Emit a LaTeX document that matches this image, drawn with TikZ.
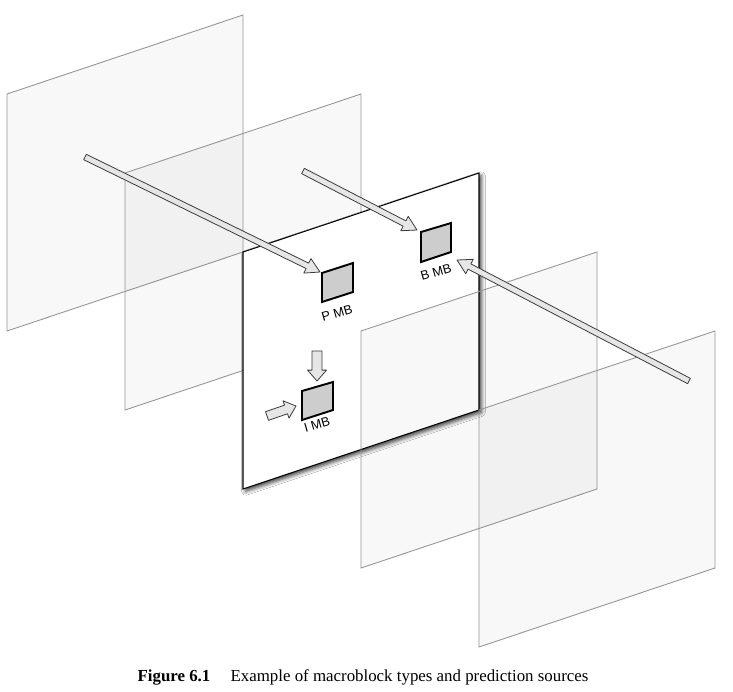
\documentclass[tikz,border=0pt]{standalone}
\usepackage{fontspec}
\setmainfont{Liberation Serif}
\setsansfont{Liberation Sans}
\usetikzlibrary{calc,shadows.blur}
\definecolor{vframe}{HTML}{959595}
\definecolor{vedge}{HTML}{3a3a3a}
\definecolor{varrow}{HTML}{e6e6e6}
\definecolor{vblock}{HTML}{cdcdcd}

% hollow arrow: tail, tip, half shaft, half head, head length
\newcommand{\mvarrow}[5]{%
	\coordinate (hb) at ($(#2)!#5!(#1)$);
	\filldraw[mvline] ($(#1)!#3!90:(#2)$) -- ($(hb)!#3!90:(#2)$) -- ($(hb)!#4!90:(#2)$) -- (#2)
		-- ($(hb)!#4!-90:(#2)$) -- ($(hb)!#3!-90:(#2)$) -- ($(#1)!#3!-90:(#2)$) -- cycle;
}

\begin{document}
\begin{tikzpicture}[x={(0.02cm,0)}, y={(0,-0.02cm)},
		plane/.style={draw=vframe, line width=0.5pt, fill=black, fill opacity=0.028},
		mvline/.style={draw=vedge, fill=varrow, line width=0.45pt, line join=round},
		mbblock/.style={draw=black, fill=vblock, line width=1.1pt, line join=miter},
		mblabel/.style={font=\sffamily\fontsize{7.3}{8}\selectfont, rotate=16, inner sep=0pt}]
		\fill[white] (0,0) rectangle (733,691);
		\useasboundingbox (0,0) rectangle (733,691);
		% back frames
		\filldraw[plane] (7,94) -- (243,15) -- (243,252) -- (7,331) -- cycle;
		\filldraw[plane] (125,173) -- (361,94) -- (361,331) -- (125,410) -- cycle;
		% current frame
		\filldraw[draw=black, line width=0.6pt, fill=white,
			blur shadow={shadow xshift=1.4pt, shadow yshift=-1.4pt, shadow blur radius=2.2pt, shadow opacity=75}]
			(243,252) -- (479,173) -- (479,410) -- (243,489) -- cycle;
		% front frames
		\filldraw[plane] (361,331) -- (597,252) -- (597,489) -- (361,568) -- cycle;
		\filldraw[plane] (479,410) -- (715,331) -- (715,568) -- (479,647) -- cycle;
		% macroblocks
		\filldraw[mbblock] (322,273) -- (353,263) -- (353,292) -- (322,302) -- cycle;
		\filldraw[mbblock] (421,232) -- (451,223) -- (451,252) -- (421,262) -- cycle;
		\filldraw[mbblock] (302,391) -- (333,382) -- (333,410) -- (302,420) -- cycle;
		\node[mblabel] (plabel) at (337,313) {P MB};
		\node[mblabel] (blabel) at (436,272) {B MB};
		\node[mblabel] (ilabel) at (317,425) {I MB};
		% prediction sources
		\coordinate (ptail) at (85,157);
		\coordinate (ptip)  at (320,272);
		\coordinate (bltail) at (303,171);
		\coordinate (bltip)  at (417,230);
		\coordinate (brtail) at (689,381);
		\coordinate (brtip)  at (457,260);
		\coordinate (iutail) at (317,351);
		\coordinate (iutip)  at (317,381);
		\coordinate (iltail) at (267,416);
		\coordinate (iltip)  at (296,406);
		\mvarrow{ptail}{ptip}{1.7pt}{4.6pt}{8pt}
		\mvarrow{bltail}{bltip}{1.7pt}{4.6pt}{8pt}
		\mvarrow{brtail}{brtip}{1.7pt}{4.6pt}{8pt}
		\mvarrow{iutail}{iutip}{2.8pt}{5.4pt}{6.2pt}
		\mvarrow{iltail}{iltip}{2.6pt}{5.2pt}{6pt}
		\node[font=\fontsize{9.6}{11}\selectfont, inner sep=0pt] (caption) at (363,677)
			{\textbf{Figure 6.1}\hspace{1.2em}Example of macroblock types and prediction sources};
	\end{tikzpicture}
\end{document}
